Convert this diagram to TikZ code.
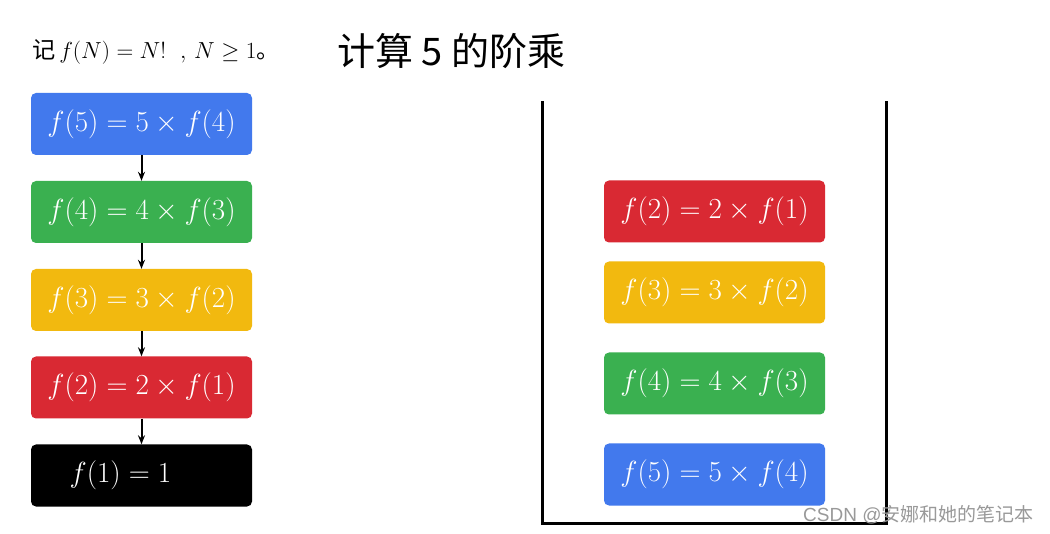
\documentclass[tikz,border=0pt]{standalone}
\usepackage{fontspec}
\newfontfamily\cjk{Noto Sans CJK SC}
\usetikzlibrary{arrows.meta}
\definecolor{gblue}{RGB}{66,121,237}
\definecolor{ggreen}{RGB}{58,176,80}
\definecolor{gyellow}{RGB}{242,185,15}
\definecolor{gred}{RGB}{217,41,51}
\tikzset{
  fbox/.style={rounded corners=5pt, minimum width=221pt, minimum height=62pt, text=white, inner sep=0pt,
    font=\fontsize{24.88}{30}\selectfont},
  link/.style={-{Stealth[length=9pt,width=7pt]}, line width=2pt},
  wall/.style={line width=3pt, line cap=rect},
}
\newcommand{\bx}[1]{\scalebox{1.17}{#1}}
\begin{document}
\begin{tikzpicture}[x=1pt,y=-1pt]
\useasboundingbox[fill=white] (0,0) rectangle (1050,534);
% header
\node[anchor=west, inner sep=0pt, font=\fontsize{20.74}{26}\selectfont] (def) at (32,52) {\scalebox{1.12}{{\cjk 记}\,$f(N)=N!\ \ ,\,N\geq 1${\cjk 。}}};
\node[anchor=west, inner sep=0pt, font=\cjk\fontsize{38}{43}\selectfont] (title) at (337,51) {计算 5 的阶乘};
% left chain
\node[fbox, fill=gblue]   (l5) at (141.5,124) {\bx{$f(5)=5\times f(4)$}};
\node[fbox, fill=ggreen]  (l4) at (141.5,212) {\bx{$f(4)=4\times f(3)$}};
\node[fbox, fill=gyellow] (l3) at (141.5,300) {\bx{$f(3)=3\times f(2)$}};
\node[fbox, fill=gred]    (l2) at (141.5,387.5) {\bx{$f(2)=2\times f(1)$}};
\node[fbox, fill=black]   (l1) at (141.5,475.5) {\hspace*{-42pt}\bx{$f(1)=1$}};
\draw[link] (l5) -- (l4);
\draw[link] (l4) -- (l3);
\draw[link] (l3) -- (l2);
\draw[link] (l2) -- (l1);
% stack container
\coordinate (tl) at (542,103);
\coordinate (bl) at (542,523);
\coordinate (br) at (886,523);
\coordinate (tr) at (886,103);
\draw[wall] (tl) -- (bl) -- (br) -- (tr);
% stack contents
\node[fbox, fill=gred]    (s2) at (714.5,211.5) {\bx{$f(2)=2\times f(1)$}};
\node[fbox, fill=gyellow] (s3) at (714.5,292.5) {\bx{$f(3)=3\times f(2)$}};
\node[fbox, fill=ggreen]  (s4) at (714.5,383.5) {\bx{$f(4)=4\times f(3)$}};
\node[fbox, fill=gblue]   (s5) at (714.5,474.5) {\bx{$f(5)=5\times f(4)$}};
% watermark
\node[anchor=west, inner sep=0pt, text=black!40, font=\fontsize{19}{22}\selectfont] (wm) at (803,515) {\fontspec{Liberation Sans}CSDN @{\cjk 安娜和她的笔记本}};
\end{tikzpicture}
\end{document}
